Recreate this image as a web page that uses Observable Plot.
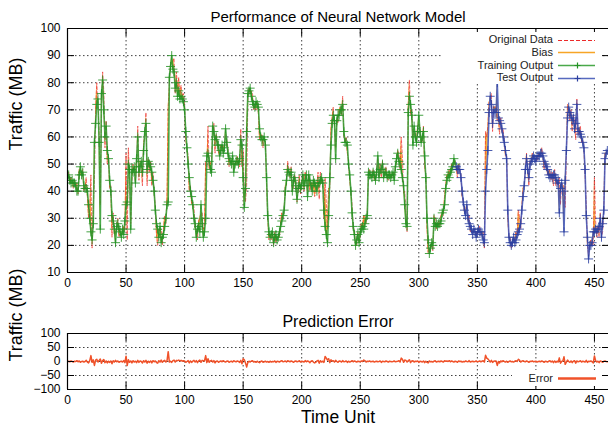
<!DOCTYPE html>
<html><head><meta charset="utf-8">
<script src="https://cdn.jsdelivr.net/npm/d3@7"></script>
<script src="https://cdn.jsdelivr.net/npm/@observablehq/plot@0.6"></script>
<style>
body{margin:0;background:#fff}
#chart{position:relative;width:608px;height:433px;overflow:hidden;font-family:"Liberation Sans",Arial,Helvetica,sans-serif}
#chart svg{display:block}
</style>
</head><body><div id="chart"></div>
<script>
// Model output (training then test), one value per time unit
const output = [
45,46,44,43,44,43,43,42,40,40, 46,49,46,47,42,41,41,40,35,30,
25,22,28,58,65,72,74,58,26,76, 81,70,60,64,55,52,44,40,31,29,
26,21,27,28,26,25,23,26,24,29, 35,36,50,48,26,48,47,49,43,52,
60,47,49,51,47,55,62,65,48,51, 50,49,47,44,40,33,28,26,23,27,
21,23,24,27,30,35,36,82,86,90, 85,84,78,80,75,77,74,75,74,73,
70,62,56,50,45,40,38,35,30,28, 23,26,27,25,35,28,23,25,30,53,
54,51,48,47,64,62,59,60,57,57, 53,55,57,54,56,63,58,54,52,51,
50,53,47,50,51,51,50,52,59,57, 45,34,41,62,76,77,78,75,73,72,
71,73,72,71,63,60,59,59,60,57, 45,31,25,23,24,25,21,23,24,22,
23,25,27,29,31,33,40,44,48,47, 46,47,40,44,45,42,37,41,43,41,
42,46,42,44,46,38,46,44,42,40, 44,43,42,40,43,43,44,45,43,33,
27,24,21,31,45,57,65,68,66,52, 66,68,68,70,70,72,62,58,58,57,
50,46,40,32,27,24,20,22,24,21, 25,26,27,26,28,30,31,47,46,46,
45,47,46,44,47,53,45,48,48,50, 45,47,47,45,46,46,45,46,47,44,
49,52,54,51,50,48,45,42,35,28, 27,69,75,72,68,57,64,60,58,62,
68,62,58,60,62,53,45,30,22,17, 19,21,20,30,27,28,27,28,28,29,
32,33,35,41,44,46,45,47,48,49, 52,50,49,48,48,48,45,40,36,33,
31,35,30,28,27,26,24,26,25,23, 25,26,25,25,24,22,21,40,48,55,
69,75,72,65,70,69,69,80,67,66, 65,63,60,58,55,52,33,23,21,20,
21,23,21,22,24,25,26,28,33,38, 42,48,52,48,45,50,51,52,53,52,
51,53,53,53,54,54,53,51,50,49, 48,46,45,46,45,46,46,45,43,44,
32,41,43,40,25,44,55,67,71,69, 68,66,67,63,65,72,62,62,61,60,
58,56,48,31,23,15,20,20,21,25, 25,26,25,26,27,30,23,28,33,52,
54,55
];
// Prediction error per time unit (original data = output + error)
const errorVals = [
0,1,-1,2,0,-2,1,0,3,-1,2,-3,0,1,-2,0,4,-2,-5,3,
21,-3,6,-14,5,8,-2,4,9,-6,3,7,-4,2,-5,1,-3,2,-8,3,
-2,4,-1,2,-3,0,1,-2,3,-4,19,-14,6,-3,2,-5,3,-2,1,-4,
4,-3,2,0,-5,3,-2,4,-6,1,-3,2,-5,3,-1,2,-4,-6,3,-2,
5,-3,2,4,-2,3,35,-2,1,-3,3,5,-2,4,3,5,2,4,1,3,
2,-3,0,3,-5,2,-3,1,4,-2,3,-4,2,5,-3,4,3,2,21,-4,
10,-3,2,4,-2,3,-5,1,2,-3,0,2,-1,3,0,-2,1,2,-3,0,
1,-2,3,0,-1,2,0,-3,4,-8,10,6,-5,-20,-3,1,-2,2,3,-2,
0,-3,1,-2,-4,0,2,-3,-1,1,-2,0,-3,1,-2,0,-1,2,-3,1,
0,-2,1,3,-1,0,2,-2,3,1,-1,2,0,-3,1,2,-1,0,3,-2,
1,0,-2,3,-1,2,0,-4,1,3,-2,-5,-3,2,4,-6,3,-2,1,-3,
18,12,5,10,-4,6,2,3,-2,4,0,-3,2,1,-2,3,-1,0,2,-3,
1,-2,0,3,-1,2,0,-2,1,0,-1,2,0,5,3,-2,1,0,2,-1,
0,1,-2,0,1,-1,0,2,-3,1,0,-1,2,0,-2,1,0,-1,0,2,
-1,0,1,3,-2,12,8,-3,5,4,-2,3,6,-4,2,3,-2,1,0,2,
-3,1,0,-2,2,-4,1,-3,-5,2,-1,0,-2,1,3,-2,0,1,-1,2,
0,-2,3,1,2,0,3,-1,2,0,-2,1,0,-3,2,0,1,-2,0,-1,
2,0,-1,3,-2,0,1,-1,0,2,-1,0,2,-1,1,3,-2,22,12,9,
4,-2,4,-3,1,2,2,-14,0,-5,2,-1,3,0,-2,1,-3,0,2,-1,
0,-2,1,3,0,8,5,-2,1,3,0,-1,2,0,-3,1,0,2,-1,0,
1,-2,0,1,-1,2,0,-3,1,0,-2,1,3,-2,2,-4,2,-3,1,-2,
13,-6,0,2,17,-10,-2,5,0,-3,2,-4,1,3,-6,2,-1,0,3,-2,
1,0,-2,4,-3,1,0,2,-1,-5,20,3,-2,1,-4,2,0,-3,1,2,
0,-1
];
const lastTrainingUnit = 331;
const xTicks = [0,50,100,150,200,250,300,350,400,450];
const yTicksTop = [10,20,30,40,50,60,70,80,90,100];
const yTicksErr = [-100,-50,0,50,100];
const xDomain = [0, 462];
const yDomainTop = [10, 100];
const yDomainErr = [-100, 100];
const titleTop = "Performance of Neural Network Model";
const titleErr = "Prediction Error";
const yLabel = "Traffic (MB)";
const xLabel = "Time Unit";
const legendTop = ["Original Data", "Bias", "Training Output", "Test Output"];
const legendErr = ["Error"];

const C = {orig:"#ec2a2a", bias:"#f7a526", train:"#2a9a2a", trainDot:"#249224", test:"#3a50b4", testDot:"#2c40a0", err:"#f0522a"};
const FONT = '"Liberation Sans", Arial, Helvetica, sans-serif';

const n = Math.min(output.length, errorVals.length);
const rows = d3.range(n).map(t => ({t, out: output[t], err: errorVals[t], orig: output[t] + errorVals[t]}));
const train = rows.filter(d => d.t <= lastTrainingUnit);
const test = rows.filter(d => d.t > lastTrainingUnit);

const gridStyle = {stroke: "#000", strokeOpacity: 0.75, strokeDasharray: "1.5,2.5", strokeWidth: 1};

function frameMarks(yTicks, yDomain) {
  return [
    Plot.axisY({ticks: yTicks, tickSize: 0, tickPadding: 7, label: null, fontSize: 12}),
    Plot.axisY({ticks: yTicks, tickSize: -7, fill: "none", label: null}),
    Plot.axisY({anchor: "right", ticks: yTicks, tickSize: -7, fill: "none", label: null}),
    Plot.axisX({ticks: xTicks, tickSize: 0, tickPadding: 6, label: null, fontSize: 12}),
    Plot.axisX({ticks: xTicks, tickSize: -7, fill: "none", label: null}),
    Plot.axisX({anchor: "top", ticks: xTicks, tickSize: -7, fill: "none", label: null}),
    Plot.ruleX([xDomain[0]], {stroke: "#000", strokeWidth: 1.2}),
    Plot.ruleY(yDomain, {stroke: "#000", strokeWidth: 1.2})
  ];
}

const topPlot = Plot.plot({
  width: 608, height: 300,
  marginLeft: 67, marginRight: 0, marginTop: 28, marginBottom: 28,
  style: {fontFamily: FONT, fontSize: "12px", color: "#000", background: "transparent", overflow: "visible"},
  x: {domain: xDomain, label: null},
  y: {domain: yDomainTop, label: null},
  marks: [
    Plot.gridY(yTicksTop.slice(1, -1), gridStyle),
    Plot.gridX(xTicks.slice(1), gridStyle),
    Plot.areaY(rows, {x: "t", y1: "out", y2: "orig", fill: C.bias, fillOpacity: 0.9, clip: true}),
    Plot.line(rows, {x: "t", y: "orig", stroke: C.orig, strokeWidth: 1, strokeDasharray: "3,2", strokeOpacity: 0.65, clip: true}),
    Plot.line(train, {x: "t", y: "out", stroke: C.train, strokeWidth: 1.6, strokeOpacity: 0.85, clip: true}),
    Plot.dot(train, {x: "t", y: "out", symbol: "plus", r: 3, stroke: C.trainDot, strokeOpacity: 0.85, strokeWidth: 1, clip: true}),
    Plot.line(test, {x: "t", y: "out", stroke: C.test, strokeWidth: 1.6, strokeOpacity: 0.85, clip: true}),
    Plot.dot(test, {x: "t", y: "out", symbol: "plus", r: 3, stroke: C.testDot, strokeOpacity: 0.85, strokeWidth: 1, clip: true}),
    ...frameMarks(yTicksTop, yDomainTop),
    Plot.text([titleTop], {text: d => d, frameAnchor: "top", dy: -17, fontSize: 15}),
    Plot.text([yLabel], {text: d => d, frameAnchor: "left", rotate: -90, dx: -51, fontSize: 18})
  ]
});

const errPlot = Plot.plot({
  width: 608, height: 133,
  marginLeft: 67, marginRight: 0, marginTop: 33, marginBottom: 44,
  style: {fontFamily: FONT, fontSize: "12px", color: "#000", background: "transparent", overflow: "visible"},
  x: {domain: xDomain, label: null},
  y: {domain: yDomainErr, label: null},
  marks: [
    Plot.gridY(yTicksErr.slice(1, -1), gridStyle),
    Plot.gridX(xTicks.slice(1), gridStyle),
    Plot.line(rows, {x: "t", y: "err", stroke: C.err, strokeWidth: 1.5, clip: true}),
    ...frameMarks(yTicksErr, yDomainErr),
    Plot.text([titleErr], {text: d => d, frameAnchor: "top", dy: -18, fontSize: 16}),
    Plot.text([xLabel], {text: d => d, frameAnchor: "bottom", dy: 33.5, fontSize: 17.5}),
    Plot.text([yLabel], {text: d => d, frameAnchor: "left", rotate: -90, dx: -51, fontSize: 18})
  ]
});

// Legends (opaque boxes like gnuplot "key opaque")
function legend(svg, items, box) {
  const g = d3.select(svg).append("g").attr("font-family", FONT).attr("font-size", 11);
  g.append("rect").attr("x", box.x).attr("y", box.y).attr("width", box.w).attr("height", box.h).attr("fill", "#fff");
  items.forEach((it, i) => {
    const y = box.y0 + i * box.dy;
    const ly = Math.round(y) + 0.5;
    g.append("text").attr("x", box.tx).attr("y", y).attr("dy", "0.35em").attr("text-anchor", "end").attr("fill", "#222").text(it.label);
    const ln = g.append("line").attr("x1", box.lx1).attr("x2", box.lx2).attr("y1", ly).attr("y2", ly)
      .attr("stroke", it.color).attr("stroke-width", it.width || 1.5);
    if (it.dash) ln.attr("stroke-dasharray", it.dash);
    if (it.opacity) ln.attr("stroke-opacity", it.opacity);
    if (it.marker) {
      const cx = Math.round((box.lx1 + box.lx2) / 2) + 0.5;
      g.append("path").attr("d", `M${cx-3},${ly}h6M${cx},${ly-3}v6`).attr("stroke", it.marker).attr("stroke-width", 1.2);
    }
  });
}
legend(topPlot, [
  {label: legendTop[0], color: C.orig, dash: "4,2", width: 1.2},
  {label: legendTop[1], color: C.bias, width: 1.5},
  {label: legendTop[2], color: C.train, width: 1.6, opacity: 0.85, marker: C.trainDot},
  {label: legendTop[3], color: C.test, width: 1.6, opacity: 0.85, marker: C.testDot}
], {x: 443, y: 32, w: 158, h: 52, y0: 39.5, dy: 12.7, tx: 553, lx1: 558, lx2: 595});
legend(errPlot, [
  {label: legendErr[0], color: C.err, width: 2.6}
], {x: 512, y: 70, w: 89, h: 16, y0: 78, dy: 12, tx: 553, lx1: 558, lx2: 596});

const chart = document.getElementById("chart");
chart.appendChild(topPlot);
chart.appendChild(errPlot);
</script>
</body></html>
